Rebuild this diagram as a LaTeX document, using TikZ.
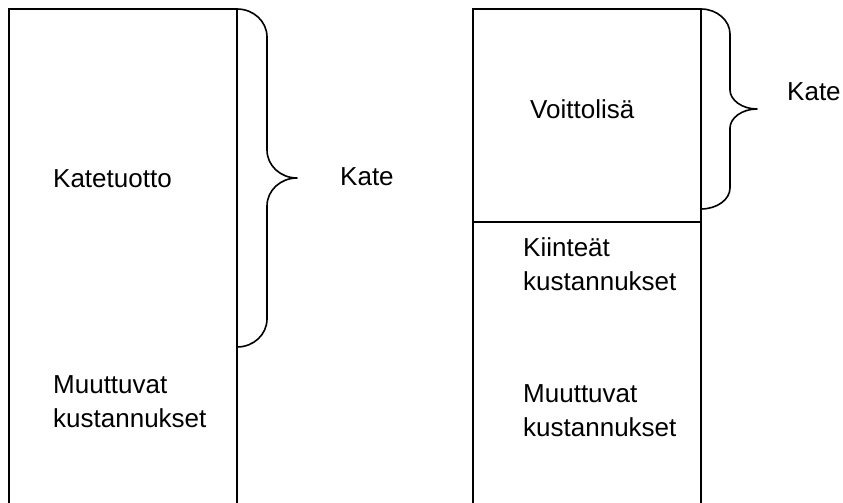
\documentclass[tikz,border=0pt]{standalone}
\usepackage{fontspec}
\setmainfont{Liberation Sans}
\begin{document}
\begin{tikzpicture}[x=1pt,y=-1pt,
  frame/.style={line width=1.6pt},
  brace/.style={line width=1.6pt, line join=round},
  lbl/.style={anchor=base west, inner sep=0pt, align=left,
    font=\fontsize{26}{34}\selectfont}]
\useasboundingbox (0,0) rectangle (843,503);

% left column: open-bottomed box
\draw[frame] (9,503) -- (9,9) -- (237,9) -- (237,503);
% right column: open-bottomed box with a divider
\draw[frame] (473,503) -- (473,9) -- (701,9) -- (701,503);
\draw[frame] (473,222) -- (701,222);

% left brace
\draw[brace] (237,9) .. controls (253.6,9) and (267,21.5) .. (267,37)
  -- (267,150) .. controls (267,165.5) and (280.4,178) .. (297,178)
  .. controls (280.4,178) and (267,190.5) .. (267,206)
  -- (267,319) .. controls (267,334.5) and (253.6,347) .. (237,347);

% right brace
\draw[brace] (701,9) .. controls (717,9) and (730,20.5) .. (730,34)
  -- (730,90) .. controls (730,100) and (742,109) .. (757,109)
  .. controls (742,109) and (730,118) .. (730,128)
  -- (730,188) .. controls (730,199.5) and (717,209) .. (701,209);

% labels (multi-line labels are placed by the baseline of their last line)
\node[lbl] (katetuotto) at (53,187) {Katetuotto};
\node[lbl] (kateL) at (340,185) {Kate};
\node[lbl] (muuttL) at (53,427) {Muuttuvat\\kustannukset};

\node[lbl] (voitto) at (530,118) {Voittolisä};
\node[lbl] (kateR) at (787,100) {Kate};
\node[lbl] (kiintea) at (523,290) {Kiinteät\\kustannukset};
\node[lbl] (muuttR) at (523,436) {Muuttuvat\\kustannukset};
\end{tikzpicture}
\end{document}
